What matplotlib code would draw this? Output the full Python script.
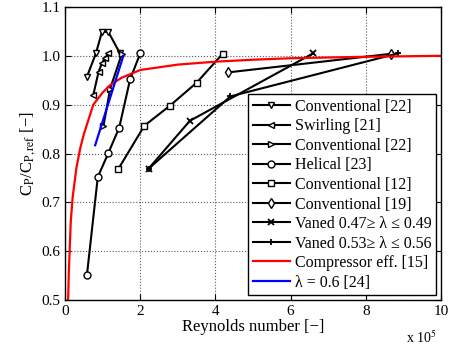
import matplotlib
matplotlib.use("Agg")
import matplotlib.pyplot as plt

plt.rcParams['font.family'] = ['Liberation Serif', 'DejaVu Serif']
plt.rcParams['mathtext.fontset'] = 'stix'

# Reynolds numbers in units of 1e5
conv22a_re = [0.58, 0.82, 0.98, 1.15, 1.46]
conv22a_cp = [0.957, 1.005, 1.049, 1.049, 1.005]

swirl21_re = [0.75, 0.89, 0.98, 1.06, 1.15]
swirl21_cp = [0.920, 0.967, 0.985, 0.995, 1.005]

conv22b_re = [1.02, 1.20, 1.51]
conv22b_cp = [0.856, 0.933, 1.004]

helical23_re = [0.58, 0.87, 1.15, 1.44, 1.73, 2.00]
helical23_cp = [0.551, 0.752, 0.801, 0.853, 0.952, 1.005]

conv12_re = [1.42, 2.11, 2.79, 3.50, 4.19]
conv12_cp = [0.769, 0.857, 0.898, 0.945, 1.004]

conv19_re = [4.33, 8.66]
conv19_cp = [0.966, 1.004]

vaned47_re = [2.22, 3.32, 6.60]
vaned47_cp = [0.769, 0.867, 1.005]

vaned53_re = [2.22, 4.40, 8.86]
vaned53_cp = [0.769, 0.917, 1.005]

comp15_re = [0.08, 0.10, 0.15, 0.20, 0.30, 0.40, 0.50, 0.75, 1.00, 1.20,
             1.50, 2.00, 3.00, 4.00, 5.00, 6.00, 8.00, 10.0]
comp15_cp = [0.50, 0.56, 0.66, 0.71, 0.77, 0.81, 0.84, 0.90, 0.925, 0.94,
             0.955, 0.971, 0.982, 0.988, 0.992, 0.995, 0.998, 1.0]

lam24_re = [0.80, 1.55]
lam24_cp = [0.817, 1.0]

fig = plt.figure(figsize=(4.49, 3.47), dpi=100)
ax = fig.add_axes([0.145, 0.135, 0.837, 0.845])

mk = dict(color='black', lw=1.5, mfc='white', mec='black', mew=1.0, ms=5)
ax.plot(conv22a_re, conv22a_cp, marker='v', label='Conventional [22]', **mk)
ax.plot(swirl21_re, swirl21_cp, marker='<', label='Swirling [21]', **mk)
ax.plot(conv22b_re, conv22b_cp, marker='>', label='Conventional [22]', **mk)
ax.plot(helical23_re, helical23_cp, marker='o', label='Helical [23]', **mk)
ax.plot(conv12_re, conv12_cp, marker='s', label='Conventional [12]', **mk)
ax.plot(conv19_re, conv19_cp, marker='d', label='Conventional [19]', **mk)
ax.plot(vaned47_re, vaned47_cp, color='black', lw=1.5, marker='x', ms=4, mew=1.3,
        label='Vaned 0.47\u2265 \u03bb \u2264 0.49')
ax.plot(vaned53_re, vaned53_cp, color='black', lw=1.5, marker='+', ms=5, mew=1.3,
        label='Vaned 0.53\u2265 \u03bb \u2264 0.56')
ax.plot(comp15_re, comp15_cp, color='red', lw=1.6, label='Compressor eff. [15]')
ax.plot(lam24_re, lam24_cp, color='blue', lw=1.6, label='\u03bb = 0.6 [24]')

ax.set_xlim(0, 10)
ax.set_ylim(0.5, 1.1)
ax.set_xticks(range(0, 11, 2))
ax.set_yticks([0.5, 0.6, 0.7, 0.8, 0.9, 1.0, 1.1])
ax.set_yticklabels(['0.5', '0.6', '0.7', '0.8', '0.9', '1.0', '1.1'])
ax.tick_params(direction='in', top=True, right=True, labelsize=11, length=4)
ax.grid(True, linestyle=':', color='0.35', lw=0.8)
for s in ax.spines.values():
    s.set_linewidth(1.0)

ax.set_xlabel('Reynolds number [\u2212]', fontsize=12, labelpad=1)
ax.set_ylabel(r'C$_\mathrm{P}$/C$_\mathrm{P,ref}$' + ' [\u2212]', fontsize=12, labelpad=2)
fig.text(0.905, 0.012, r'x 10$^5$', fontsize=10)

leg = ax.legend(loc='lower right', fontsize=11.5, handlelength=2.3, labelspacing=0.22,
                borderpad=0.3, handletextpad=0.3, fancybox=False, framealpha=1,
                edgecolor='black', borderaxespad=0.3)
leg.get_frame().set_linewidth(1.0)

fig.savefig('out.png', dpi=100)
